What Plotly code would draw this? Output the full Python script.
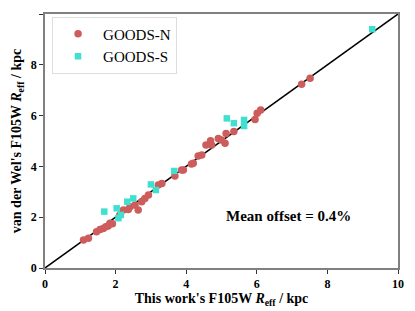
import plotly.graph_objects as go

# GOODS-N sample
n_this = [1.09, 1.23, 1.46, 1.56, 1.65, 1.72, 1.79, 1.84, 1.91, 2.12, 2.22, 2.36, 2.41, 2.55, 2.64,
          2.74, 2.83, 2.93, 3.21, 3.31, 3.68, 3.87, 3.92, 4.15, 4.20, 4.34, 4.44, 4.56, 4.69, 4.72,
          4.91, 5.00, 5.10, 5.13, 5.35, 5.95, 6.01, 6.11, 7.27, 7.51]
n_vdw = [1.10, 1.17, 1.43, 1.52, 1.56, 1.62, 1.65, 1.76, 1.74, 2.09, 2.28, 2.30, 2.41, 2.48, 2.28,
         2.61, 2.74, 2.87, 3.27, 3.33, 3.62, 3.86, 3.86, 4.09, 4.12, 4.41, 4.45, 4.84, 5.01, 4.84,
         5.10, 5.04, 4.91, 5.30, 5.37, 5.85, 6.09, 6.22, 7.23, 7.47]

# GOODS-S sample
s_this = [1.68, 2.03, 2.08, 2.15, 2.33, 2.50, 3.00, 3.14, 3.66, 5.15, 5.35, 5.64, 5.64, 9.27]
s_vdw = [2.22, 2.35, 1.96, 2.09, 2.61, 2.74, 3.29, 3.07, 3.82, 5.89, 5.70, 5.83, 5.59, 9.40]

one_to_one = [0, 10]
x_ticks = [0, 2, 4, 6, 8, 10]
y_ticks = [0, 2, 4, 6, 8, 10]
annotation_text = "Mean offset = 0.4%"

FONT = "Liberation Serif, DejaVu Serif, serif"

fig = go.Figure()
fig.add_trace(go.Scatter(x=one_to_one, y=one_to_one, mode="lines",
                         line=dict(color="black", width=1.5), showlegend=False, hoverinfo="skip"))
fig.add_trace(go.Scatter(x=n_this, y=n_vdw, mode="markers", name="GOODS-N",
                         marker=dict(symbol="circle", size=7.5, color="#CD5C5C", line=dict(width=0))))
fig.add_trace(go.Scatter(x=s_this, y=s_vdw, mode="markers", name="GOODS-S",
                         marker=dict(symbol="square", size=6.5, color="#40E0D0", line=dict(width=0))))

axis_common = dict(
    range=[0, 10], showgrid=False, zeroline=False, automargin=False,
    showline=True, linecolor="#808080", linewidth=1.5, mirror=True,
    ticks="outside", ticklen=4, tickwidth=1.2, tickcolor="#333333",
    tickfont=dict(family=FONT, size=12, color="black"),
)

# page body adds an 8px offset, so the figure is sized to fit the 415x311 window
fig.update_layout(
    width=407, height=303,
    margin=dict(l=37, r=17, t=6, b=43),
    paper_bgcolor="white", plot_bgcolor="white",
    font=dict(family=FONT, color="black"),
    xaxis=dict(**axis_common, tickvals=x_ticks, ticktext=[f"<b>{v}</b>" for v in x_ticks],
               title=dict(text="<b>This work's F105W <i>R</i><sub>eff</sub> / kpc</b>",
                          font=dict(family=FONT, size=14), standoff=0)),
    yaxis=dict(**axis_common, tickvals=y_ticks, ticktext=[f"<b>{v}</b>" for v in y_ticks],
               title=dict(text="<b>van der Wel's F105W <i>R</i><sub>eff</sub> / kpc</b>",
                          font=dict(family=FONT, size=14), standoff=6)),
    legend=dict(x=0.02, y=0.99, xanchor="left", yanchor="top",
                bgcolor="white", bordercolor="#dddddd", borderwidth=1,
                font=dict(family=FONT, size=15), itemsizing="trace", itemwidth=40),
    annotations=[dict(x=6.9, y=2.04, xref="x", yref="y", text=f"<b>{annotation_text}</b>",
                      showarrow=False, font=dict(family=FONT, size=15))],
)

fig.write_html("out.html")
